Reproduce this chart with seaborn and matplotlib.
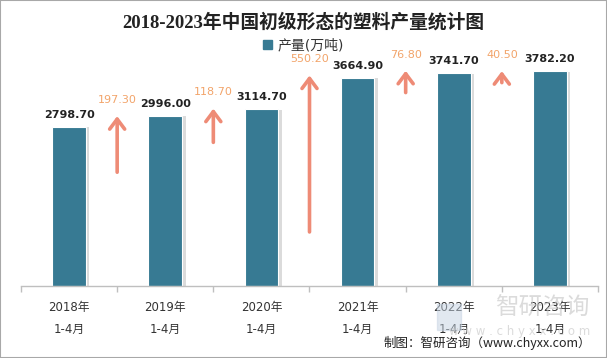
import matplotlib
matplotlib.use("Agg")
import matplotlib.pyplot as plt
import matplotlib.patheffects as pe
from matplotlib.patches import Rectangle, Patch
import pandas as pd
import seaborn as sns

# data
periods = ["2018年\n1-4月", "2019年\n1-4月", "2020年\n1-4月",
           "2021年\n1-4月", "2022年\n1-4月", "2023年\n1-4月"]
output = [2798.70, 2996.00, 3114.70, 3664.90, 3741.70, 3782.20]
increase = [197.30, 118.70, 550.20, 76.80, 40.50]
arrow_base = [400, 505, 190, 680, 715]  # where each arrow starts on the right-hand scale

bar_color = "#377A93"
arrow_color = "#EE8B76"
inc_color = "#F2A46A"
series_name = "产量(万吨)"

sns.set_theme(style="white")
plt.rcParams['font.family'] = ['DejaVu Sans', 'Noto Sans CJK SC']

df = pd.DataFrame({"period": periods, "output": output})

fig = plt.figure(figsize=(6.07, 3.58), dpi=100)
ax = fig.add_axes([21 / 607, 72 / 358, 577 / 607, 256 / 358])

sns.barplot(data=df, x="period", y="output", color=bar_color, width=0.35,
            saturation=1, ax=ax)
for p in ax.patches:
    p.set_edgecolor("white")
    p.set_linewidth(0.8)
    p.set_path_effects([pe.SimplePatchShadow(offset=(2.5, -0.5), shadow_rgbFace="#9a9a9a", alpha=0.35),
                        pe.Normal()])

ax.bar_label(ax.containers[0], fmt="%.2f", padding=5, fontsize=8,
             fontweight="bold", color="#222222")

ax.set_ylim(0, 4500)
ax.set_xlim(-0.5, 5.5)
ax.set_xlabel("")
ax.set_ylabel("")
ax.set_yticks([])
ax.set_xticks(range(len(periods)))
ax.set_xticklabels(periods, fontsize=8.5, color="#333333", linespacing=1.9)
ax.set_xticks([i - 0.5 for i in range(len(periods) + 1)], minor=True)
ax.tick_params(axis="x", which="major", length=0, pad=11)
ax.tick_params(axis="x", which="minor", bottom=True, length=4, width=1,
               color="#BFBFBF", direction="out")
for s in ["top", "left", "right"]:
    ax.spines[s].set_visible(False)
ax.spines["bottom"].set_color("#BFBFBF")
ax.spines["bottom"].set_linewidth(1)

# growth arrows on a second scale
ax2 = ax.twinx()
ax2.set_ylim(0, 900)
ax2.set_yticks([])
for s in ax2.spines.values():
    s.set_visible(False)
for i, (b, inc) in enumerate(zip(arrow_base, increase)):
    ax2.annotate("", xy=(i + 0.5, b + inc), xytext=(i + 0.5, b),
                 arrowprops=dict(arrowstyle="->,head_length=0.6,head_width=0.45",
                                 color=arrow_color, lw=2.6, shrinkA=0, shrinkB=0))
    ax2.annotate(f"{inc:.2f}", xy=(i + 0.5, b + inc), xytext=(0, 8),
                 textcoords="offset points", ha="center", va="bottom",
                 fontsize=8, color=inc_color)

fig.legend([Patch(color=bar_color)], [series_name], loc="center",
           bbox_to_anchor=(0.5, 1 - 45 / 358),
           frameon=False, handlelength=0.6, handleheight=0.6, handletextpad=0.4,
           fontsize=10, labelcolor="#333333")

fig.text(0.5, 1 - 22 / 358, "2018-2023年中国初级形态的塑料产量统计图",
         ha="center", va="center", fontsize=13.5, fontweight="bold",
         color="#222222", family=['Liberation Serif', 'Noto Sans CJK SC'])

# watermark (sits behind the last tick labels, as in the source)
fig.patches.append(Rectangle((437 / 607, 1 - 330 / 358), 24 / 607, 26 / 358,
                             transform=fig.transFigure, color="#C5D3E2", alpha=0.5, zorder=0))
fig.text(590 / 607, 1 - 308 / 358, "智研咨询", ha="right", va="center",
         fontsize=17, color="#C4C4C4", alpha=0.6, family=['Noto Sans CJK SC'], zorder=0)
fig.text(590 / 607, 1 - 331 / 358, "w w w . c h y x x . c o m", ha="right", va="center",
         fontsize=8.5, color="#CCCCCC", alpha=0.7, zorder=0)

fig.text(591 / 607, 1 - 343 / 358, "制图：智研咨询（www.chyxx.com）", ha="right",
         va="center", fontsize=9, color="#222222", family=['Noto Sans CJK SC'])

fig.patches.append(Rectangle((0, 0), 1, 1, transform=fig.transFigure, fill=False,
                             edgecolor="#A8A8A8", lw=1.5))

fig.savefig("out.png", dpi=100)
